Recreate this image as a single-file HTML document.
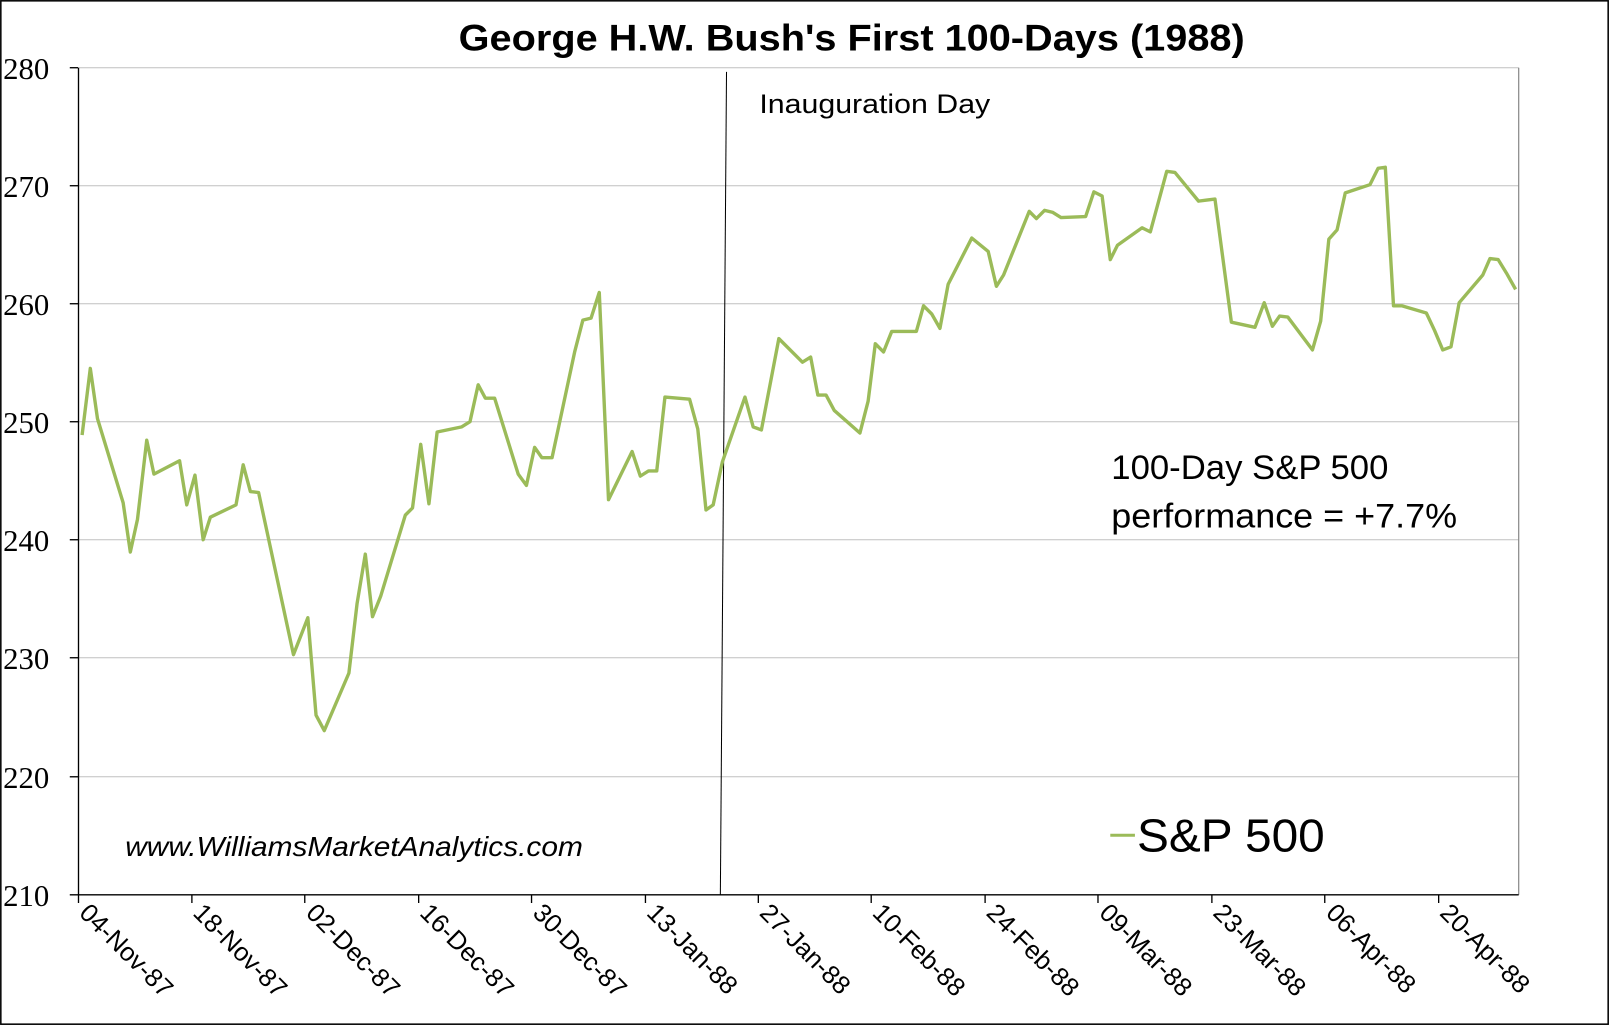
<!DOCTYPE html>
<html><head><style>html,body{margin:0;padding:0;background:#fff}svg{display:block}</style></head>
<body>
<svg width="1609" height="1025" viewBox="0 0 1568 998.9" preserveAspectRatio="none" xmlns="http://www.w3.org/2000/svg">
<rect x="0.8" y="0.8" width="1566.4" height="997.3" fill="#fff" stroke="#000" stroke-width="1.5"/>
<text x="830" y="49" text-anchor="middle" font-family="Liberation Sans, sans-serif" font-weight="bold" font-size="36" textLength="766" lengthAdjust="spacingAndGlyphs">George H.W. Bush's First 100-Days (1988)</text>
<g stroke="#c0c0c0" stroke-width="1">
<line x1="76" y1="66" x2="1480" y2="66"/><line x1="76" y1="181" x2="1480" y2="181"/><line x1="76" y1="296" x2="1480" y2="296"/><line x1="76" y1="411" x2="1480" y2="411"/><line x1="76" y1="526" x2="1480" y2="526"/><line x1="76" y1="641" x2="1480" y2="641"/><line x1="76" y1="757" x2="1480" y2="757"/>
</g>
<line x1="1480" y1="66" x2="1480" y2="872" stroke="#888" stroke-width="1.2"/>
<g stroke="#000" stroke-width="1.3">
<line x1="76.5" y1="66" x2="76.5" y2="872"/><line x1="68" y1="872" x2="1480" y2="872"/><line x1="68" y1="66" x2="76" y2="66"/>
<line x1="68" y1="181" x2="76" y2="181"/><line x1="68" y1="296" x2="76" y2="296"/><line x1="68" y1="411" x2="76" y2="411"/><line x1="68" y1="526" x2="76" y2="526"/><line x1="68" y1="641" x2="76" y2="641"/><line x1="68" y1="757" x2="76" y2="757"/>
<line x1="76.5" y1="872" x2="76.5" y2="880"/><line x1="187" y1="872" x2="187" y2="880"/><line x1="297" y1="872" x2="297" y2="880"/><line x1="408" y1="872" x2="408" y2="880"/><line x1="518" y1="872" x2="518" y2="880"/><line x1="629" y1="872" x2="629" y2="880"/><line x1="739" y1="872" x2="739" y2="880"/><line x1="849" y1="872" x2="849" y2="880"/><line x1="960" y1="872" x2="960" y2="880"/><line x1="1070" y1="872" x2="1070" y2="880"/><line x1="1181" y1="872" x2="1181" y2="880"/><line x1="1291" y1="872" x2="1291" y2="880"/><line x1="1402" y1="872" x2="1402" y2="880"/>
</g>
<g font-family="Liberation Serif, serif" font-size="30">
<text x="3" y="77" textLength="45" lengthAdjust="spacingAndGlyphs">280</text><text x="3" y="192" textLength="45" lengthAdjust="spacingAndGlyphs">270</text><text x="3" y="307" textLength="45" lengthAdjust="spacingAndGlyphs">260</text><text x="3" y="422" textLength="45" lengthAdjust="spacingAndGlyphs">250</text><text x="3" y="537" textLength="45" lengthAdjust="spacingAndGlyphs">240</text><text x="3" y="652" textLength="45" lengthAdjust="spacingAndGlyphs">230</text><text x="3" y="768" textLength="45" lengthAdjust="spacingAndGlyphs">220</text><text x="3" y="883" textLength="45" lengthAdjust="spacingAndGlyphs">210</text>
</g>
<g font-family="Liberation Sans, sans-serif" font-size="25">
<text transform="translate(76,891) rotate(45)">04-Nov-87</text>
<text transform="translate(187,891) rotate(45)">18-Nov-87</text>
<text transform="translate(297,891) rotate(45)">02-Dec-87</text>
<text transform="translate(408,891) rotate(45)">16-Dec-87</text>
<text transform="translate(518,891) rotate(45)">30-Dec-87</text>
<text transform="translate(629,891) rotate(45)">13-Jan-88</text>
<text transform="translate(739,891) rotate(45)">27-Jan-88</text>
<text transform="translate(849,891) rotate(45)">10-Feb-88</text>
<text transform="translate(960,891) rotate(45)">24-Feb-88</text>
<text transform="translate(1070,891) rotate(45)">09-Mar-88</text>
<text transform="translate(1181,891) rotate(45)">23-Mar-88</text>
<text transform="translate(1291,891) rotate(45)">06-Apr-88</text>
<text transform="translate(1402,891) rotate(45)">20-Apr-88</text>
</g>
<line x1="708" y1="70" x2="702" y2="872" stroke="#000" stroke-width="1"/>
<polyline fill="none" stroke="#9bbb59" stroke-width="3.3" stroke-linejoin="round" points="80,424 88,359 95,408 120,490 127,538 134,506 143,429 150,462 175,449 182,492 190,463 198,526 205,504 230,492 237,453 244,479 252,480 286,638 300,602 308,697 316,712 340,656 348,588 356,540 363,601 371,581 395,502 402,495 410,433 418,491 426,421 450,416 458,411 466,375 473,388 482,388 505,462 513,473 521,436 528,446 538,446 560,343 568,312 576,310 584,285 593,487 616,440 624,464 632,459 640,459 648,387 672,389 680,418 688,497 695,492 704,450 726,387 734,416 742,419 759,330 782,353 790,348 797,385 805,385 813,400 838,422 846,391 853,335 861,343 869,323 893,323 900,298 908,306 916,320 924,277 947,232 963,245 971,279 978,268 1003,206 1010,213 1018,205 1026,207 1034,212 1058,211 1066,187 1074,191 1082,253 1089,239 1113,222 1121,226 1137,167 1145,168 1168,196 1176,195 1184,194 1200,314 1223,319 1232,295 1240,318 1247,308 1255,309 1279,341 1287,313 1295,233 1303,224 1311,188 1335,180 1343,164 1350,163 1358,298 1366,298 1390,305 1398,322 1406,341 1414,338 1422,295 1445,268 1452,252 1460,253 1468,266 1477,282"/>
<text x="740" y="110" font-family="Liberation Sans, sans-serif" font-size="26" textLength="225" lengthAdjust="spacingAndGlyphs">Inauguration Day</text>
<g font-family="Liberation Sans, sans-serif" font-size="33">
<text x="1083" y="467" textLength="270" lengthAdjust="spacingAndGlyphs">100-Day S&amp;P 500</text>
<text x="1083" y="514" textLength="337" lengthAdjust="spacingAndGlyphs">performance = +7.7%</text>
</g>
<text x="122" y="834" font-family="Liberation Sans, sans-serif" font-style="italic" font-size="27" textLength="446" lengthAdjust="spacingAndGlyphs">www.WilliamsMarketAnalytics.com</text>
<line x1="1082" y1="814" x2="1106" y2="814" stroke="#9bbb59" stroke-width="3"/>
<text x="1108" y="830" font-family="Liberation Sans, sans-serif" font-size="45" textLength="183" lengthAdjust="spacingAndGlyphs">S&amp;P 500</text>
</svg>
</body></html>
